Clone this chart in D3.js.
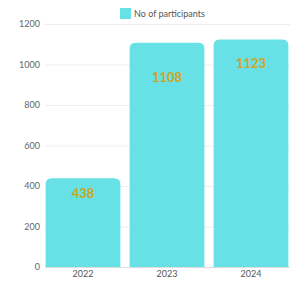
<!DOCTYPE html>
<html><head><meta charset="utf-8">
<script src="https://cdn.jsdelivr.net/npm/d3@7"></script>
<style>body{margin:0;background:#fff}svg{display:block}</style>
</head><body>
<svg id="c" width="294" height="281"></svg>
<script>
const categories = ["2022", "2023", "2024"];
const participants = [438, 1108, 1123];
const yTicks = [0, 200, 400, 600, 800, 1000, 1200];
const seriesName = "No of participants";
const labelOffsets = [15, 35, 24];

const W = 294, H = 281;
const svg = d3.select("#c");
const font = "Lato, 'Open Sans', sans-serif";
const barColor = "#68e1e6";

const y = d3.scaleLinear().domain([0, 1200]).range([267, 24]);
const x = d3.scaleBand().domain(categories).range([41, 293]).paddingInner(0.11).paddingOuter(0.055);

// gridlines
svg.append("g").selectAll("line").data(yTicks).join("line")
  .attr("x1", 45).attr("x2", 290)
  .attr("y1", d => y(d) + 0.5).attr("y2", d => y(d) + 0.5)
  .attr("stroke", d => d === 0 ? "#ddd" : "#eeeeee").attr("stroke-width", 1);

// y axis
const yAxis = d3.axisLeft(y).tickValues(yTicks).tickFormat(d3.format("d")).tickSize(0).tickPadding(0);
const gy = svg.append("g").attr("transform", "translate(40,0)").call(yAxis);
gy.select(".domain").remove();
gy.selectAll("text").attr("font-family", font).attr("font-size", 9).attr("fill", "#666");

// x axis
const xAxis = d3.axisBottom(x).tickSize(0).tickPadding(4);
const gx = svg.append("g").attr("transform", "translate(0,267)").call(xAxis);
gx.select(".domain").remove();
gx.selectAll("text").attr("font-family", font).attr("font-size", 9).attr("fill", "#555");

// bars with rounded top corners
const r = 6;
function barPath(x0, y0, w, h) {
  const rr = Math.min(r, h);
  return `M${x0},${y0 + h}V${y0 + rr}Q${x0},${y0} ${x0 + rr},${y0}H${x0 + w - rr}Q${x0 + w},${y0} ${x0 + w},${y0 + rr}V${y0 + h}Z`;
}
svg.append("g").selectAll("path").data(participants).join("path")
  .attr("d", (d, i) => barPath(x(categories[i]), y(d), x.bandwidth(), y(0) - y(d)))
  .attr("fill", barColor);

// value labels
svg.append("g").selectAll("text").data(participants).join("text")
  .attr("x", (d, i) => x(categories[i]) + x.bandwidth() / 2)
  .attr("y", (d, i) => y(d) + labelOffsets[i])
  .attr("dy", "0.35em")
  .attr("text-anchor", "middle")
  .attr("font-family", font).attr("font-weight", "bold").attr("font-size", 13)
  .attr("fill", "#d0a51e")
  .text(d => d);

// legend
const lg = svg.append("g");
lg.append("rect").attr("x", 120).attr("y", 8).attr("width", 11).attr("height", 11).attr("fill", barColor);
lg.append("text").attr("x", 134).attr("y", 13.5).attr("dy", "0.35em")
  .attr("font-family", font).attr("font-size", 9).attr("fill", "#555").text(seriesName);
</script>
</body></html>
